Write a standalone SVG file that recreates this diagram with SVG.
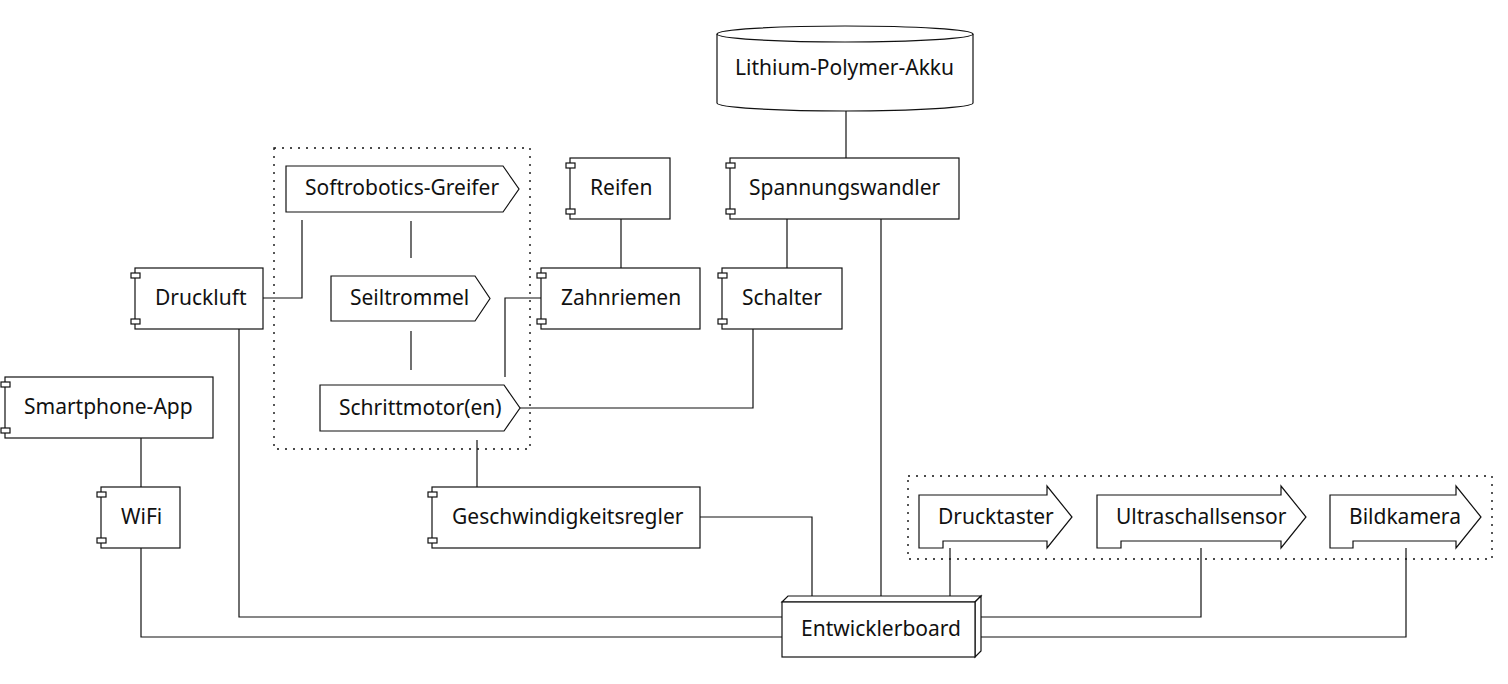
<svg xmlns="http://www.w3.org/2000/svg" width="1508" height="684" viewBox="0 0 1508 684">
<style>
.s{fill:#fff;stroke:#111;stroke-width:1.2}
.t{font-family:"Noto Sans","Open Sans",sans-serif;font-size:21px;fill:#111}
.c{fill:none;stroke:#111;stroke-width:1.2}
.g{fill:none;stroke:#111;stroke-width:1.4;stroke-dasharray:2 6}
</style>
<rect width="1508" height="684" fill="#fff"/>
<g id="group-actuators"><rect class="g" x="274" y="148" width="256" height="301"/></g>
<g id="group-sensors"><rect class="g" x="908" y="476" width="584" height="83"/></g>
<g id="connectors">
<path class="c" d="M263,298 H302 V220"/>
<path class="c" d="M411,221 V258"/>
<path class="c" d="M411,331 V370"/>
<path class="c" d="M541,298 H505 V377"/>
<path class="c" d="M520,408 H753 V329"/>
<path class="c" d="M477,440 V487"/>
<path class="c" d="M700,517 H812 V596"/>
<path class="c" d="M621,219 V268"/>
<path class="c" d="M846,111 V158"/>
<path class="c" d="M787,219 V268"/>
<path class="c" d="M881,219 V596"/>
<path class="c" d="M950,548 V596"/>
<path class="c" d="M1201,548 V617 H981"/>
<path class="c" d="M1406,548 V637 H981"/>
<path class="c" d="M239,329 V617 H782"/>
<path class="c" d="M141,548 V637 H782"/>
<path class="c" d="M141,438 V487"/>
</g>
<g id="akku">
<path class="s" d="M717,34 A128,8 0 0,1 973,34 V103 A128,8 0 0,1 717,103 Z"/>
<path class="c" d="M717,34 A128,8 0 0,0 973,34"/>
<text class="t" x="735" y="75">Lithium-Polymer-Akku</text>
</g>
<g id="softrobotics"><path class="s" d="M286,166 H503 L519,189 L503,212 H286 Z"/><text class="t" x="305" y="195">Softrobotics-Greifer</text></g>
<g id="seiltrommel"><path class="s" d="M331,276 H475 L490,298.5 L475,321 H331 Z"/><text class="t" x="350" y="305">Seiltrommel</text></g>
<g id="schrittmotor"><path class="s" d="M320,385 H504 L520,408 L504,431 H320 Z"/><text class="t" x="339" y="414.5">Schrittmotor(en)</text></g>
<g id="druckluft"><rect class="s" x="135" y="268" width="128" height="61"/><rect class="s" x="131" y="273" width="9" height="5"/><rect class="s" x="131" y="319" width="9" height="5"/><text class="t" x="155" y="305">Druckluft</text></g>
<g id="smartphone"><rect class="s" x="5" y="377" width="208" height="61"/><rect class="s" x="1" y="382" width="9" height="5"/><rect class="s" x="1" y="428" width="9" height="5"/><text class="t" x="24" y="414">Smartphone-App</text></g>
<g id="wifi"><rect class="s" x="101" y="487" width="79" height="61"/><rect class="s" x="97" y="492" width="9" height="5"/><rect class="s" x="97" y="538" width="9" height="5"/><text class="t" x="121" y="524">WiFi</text></g>
<g id="geschwindigkeitsregler"><rect class="s" x="432" y="487" width="268" height="61"/><rect class="s" x="428" y="492" width="9" height="5"/><rect class="s" x="428" y="538" width="9" height="5"/><text class="t" x="452" y="524">Geschwindigkeitsregler</text></g>
<g id="reifen"><rect class="s" x="570" y="158" width="100" height="61"/><rect class="s" x="566" y="163" width="9" height="5"/><rect class="s" x="566" y="209" width="9" height="5"/><text class="t" x="590" y="195">Reifen</text></g>
<g id="zahnriemen"><rect class="s" x="541" y="268" width="159" height="61"/><rect class="s" x="537" y="273" width="9" height="5"/><rect class="s" x="537" y="319" width="9" height="5"/><text class="t" x="561" y="305">Zahnriemen</text></g>
<g id="spannungswandler"><rect class="s" x="730" y="158" width="229" height="61"/><rect class="s" x="726" y="163" width="9" height="5"/><rect class="s" x="726" y="209" width="9" height="5"/><text class="t" x="749" y="195">Spannungswandler</text></g>
<g id="schalter"><rect class="s" x="722" y="268" width="120" height="61"/><rect class="s" x="718" y="273" width="9" height="5"/><rect class="s" x="718" y="319" width="9" height="5"/><text class="t" x="742" y="305">Schalter</text></g>
<g id="drucktaster"><path class="s" d="M919,495 H1047 V486 L1072,517 L1047,548 V541 H943 V548 H919 Z"/><text class="t" x="938" y="523.5">Drucktaster</text></g>
<g id="ultraschallsensor"><path class="s" d="M1097,495 H1281 V486 L1306,517 L1281,548 V541 H1121 V548 H1097 Z"/><text class="t" x="1116" y="523.5">Ultraschallsensor</text></g>
<g id="bildkamera"><path class="s" d="M1330,495 H1456 V486 L1481,517 L1456,548 V541 H1353 V548 H1330 Z"/><text class="t" x="1349" y="523.5">Bildkamera</text></g>
<g id="entwicklerboard">
<path class="s" d="M782,602 L788,596 H981 L975,602 Z"/>
<path class="s" d="M975,602 L981,596 V651 L975,657 Z"/>
<rect class="s" x="782" y="602" width="193" height="55"/>
<text class="t" x="801" y="636">Entwicklerboard</text>
</g>
</svg>
